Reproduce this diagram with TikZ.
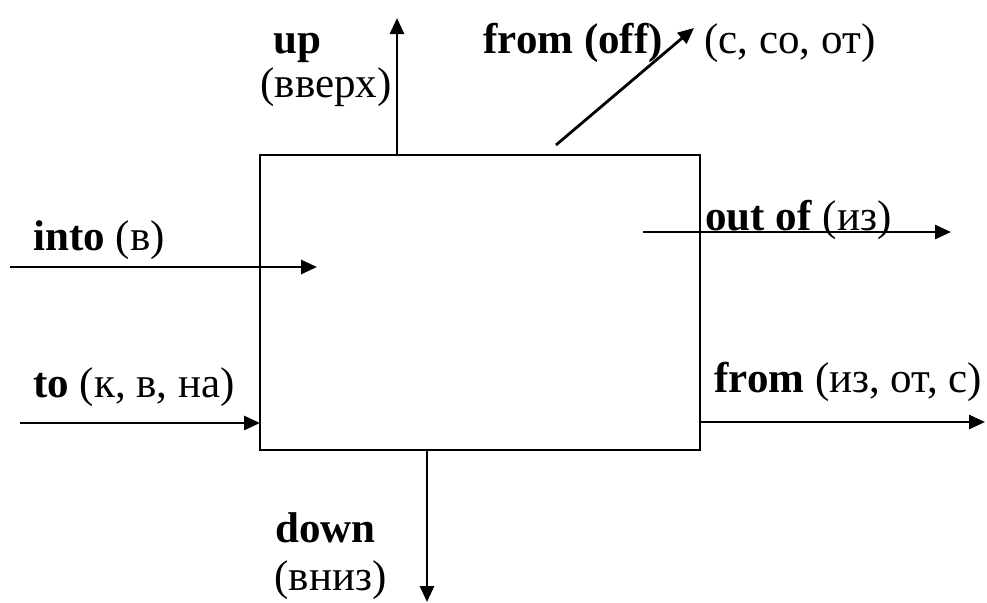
\documentclass[tikz,border=0pt]{standalone}
\usepackage{fontspec}
\setmainfont{Liberation Serif}
\usetikzlibrary{arrows.meta}
\begin{document}
\begin{tikzpicture}[x=0.5pt,y=-0.5pt,
  conn/.style={line width=1.4pt,-{Triangle[length=8pt,width=7pt]}},
  lbl/.style={anchor=base west,inner sep=0pt,font=\fontsize{21.5}{25}\selectfont},
  boxstyle/.style={draw,line width=1.4pt,inner sep=0pt,minimum width=220pt,minimum height=147.5pt}]
\useasboundingbox (0,0) rectangle (987,602);
\node[boxstyle] (box) at (480,302.5) {};
% coordinates
\coordinate (upS) at (397,155);
\coordinate (upE) at (397,18);
\coordinate (offS) at (556,145);
\coordinate (offE) at (694,28);
\coordinate (intoS) at (10,267);
\coordinate (intoE) at (317,267);
\coordinate (toS) at (20,423);
\coordinate (toE) at (260,423);
\coordinate (outS) at (643,232);
\coordinate (outE) at (951,232);
\coordinate (fromS) at (700,422);
\coordinate (fromE) at (985,422);
\coordinate (downS) at (427,450);
\coordinate (downE) at (427,602);
% connectors
\draw[conn] (upS) -- (upE);
\draw[conn] (offS) -- (offE);
\draw[conn] (intoS) -- (intoE);
\draw[conn] (toS) -- (toE);
\draw[conn] (outS) -- (outE);
\draw[conn] (fromS) -- (fromE);
\draw[conn] (downS) -- (downE);
% labels
\node[lbl] (tup) at (273,53) {\textbf{up}};
\node[lbl] (tupr) at (260,97) {(вверх)};
\node[lbl] (toff) at (483,53) {\textbf{from (off)}};
\node[lbl] (toffr) at (704,53) {(с, со, от)};
\node[lbl] (tinto) at (33,250) {\textbf{into} (в)};
\node[lbl] (tto) at (33,397) {\textbf{to} (к, в, на)};
\node[lbl] (tout) at (705,230) {\textbf{out of} (из)};
\node[lbl] (tfrom) at (714,392) {\textbf{from} (из, от, с)};
\node[lbl] (tdown) at (275,542) {\textbf{down}};
\node[lbl] (tdownr) at (274,590) {(вниз)};
\end{tikzpicture}
\end{document}
